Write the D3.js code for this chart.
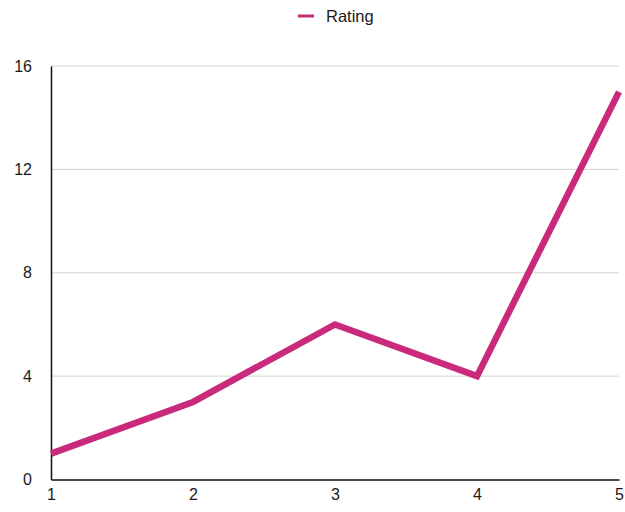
<!DOCTYPE html>
<html><head><meta charset="utf-8">
<script src="https://cdn.jsdelivr.net/npm/d3@7"></script>
<style>body{margin:0;background:#fff;}svg{display:block;font-family:"Liberation Sans",Arial,sans-serif;}</style>
</head><body>
<svg id="c" width="625" height="512"></svg>
<script>
const categories = [1, 2, 3, 4, 5];
const ratingValues = [1, 3, 6, 4, 15];
const yTicks = [0, 4, 8, 12, 16];
const seriesName = "Rating";

const svg = d3.select("#c");
const m = {left: 51, right: 6, top: 66, bottom: 32};
const W = 625, H = 512;
const x = d3.scaleLinear().domain([1, 5]).range([m.left, W - m.right]);
const y = d3.scaleLinear().domain([0, 16]).range([H - m.bottom - 0.5, m.top]);
const color = "#c92a7b";

// grid
svg.append("g").selectAll("line").data(yTicks.filter(d => d > 0)).join("line")
  .attr("x1", m.left).attr("x2", W - m.right)
  .attr("y1", d => y(d)).attr("y2", d => y(d))
  .attr("stroke", "#d4d4d4").attr("stroke-width", 1);

// y axis
const ya = svg.append("g").attr("transform", `translate(${m.left},0)`)
  .call(d3.axisLeft(y).tickValues(yTicks).tickSize(0).tickPadding(19));
ya.select(".domain").attr("stroke", "#111").attr("stroke-width", 1.5);
ya.selectAll("text").attr("font-size", 16).attr("fill", "#1a1a1a").attr("font-family", "Liberation Sans, Arial, sans-serif");

// x axis
const xa = svg.append("g").attr("transform", `translate(0,${H - m.bottom - 0.5})`)
  .call(d3.axisBottom(x).tickValues(categories).tickSize(0).tickPadding(9).tickFormat(d3.format("d")));
xa.select(".domain").attr("stroke", "#111").attr("stroke-width", 1.5);
xa.selectAll("text").attr("font-size", 16).attr("fill", "#1a1a1a").attr("font-family", "Liberation Sans, Arial, sans-serif");

// line
const line = d3.line().x((d, i) => x(categories[i])).y(d => y(d));
svg.append("path").datum(ratingValues).attr("d", line)
  .attr("fill", "none").attr("stroke", color).attr("stroke-width", 6.5)
  .attr("stroke-linejoin", "miter");

// legend
const lg = svg.append("g");
lg.append("line").attr("x1", 298).attr("x2", 314).attr("y1", 16).attr("y2", 16)
  .attr("stroke", color).attr("stroke-width", 3);
lg.append("text").attr("x", 326).attr("y", 22).text(seriesName)
  .attr("font-size", 16.5).attr("fill", "#1a1a1a");
</script>
</body></html>
